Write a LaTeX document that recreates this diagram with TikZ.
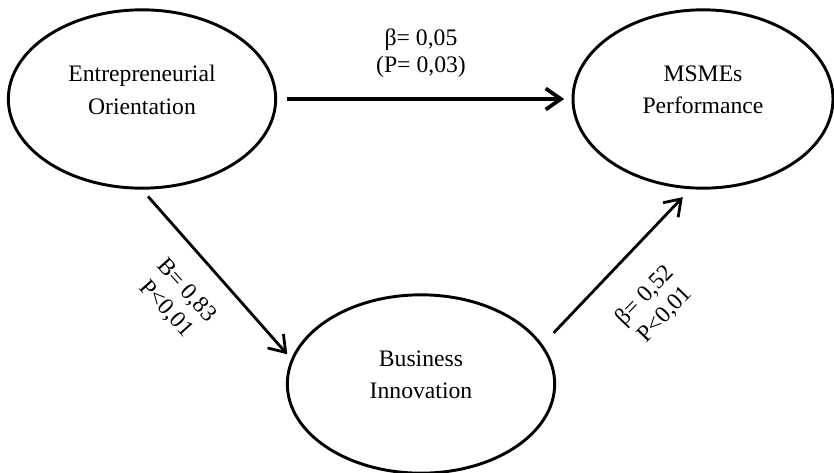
\documentclass[tikz,border=0pt]{standalone}
\usepackage{fontspec}
\setmainfont{Liberation Serif}
\usetikzlibrary{shapes.geometric,arrows.meta}

\begin{document}
\begin{tikzpicture}[x=0.03cm, y=-0.03cm,
  every node/.style={font=\fontsize{20.2}{27.5}\selectfont},
  construct/.style={draw, ellipse, line width=2.5pt, minimum width=8.02cm, minimum height=5.35cm, inner sep=0pt},
  cname/.style={align=center, yshift=0.27cm},
  link/.style={line width=2.4pt, -{Straight Barb[length=13pt,width=18pt]}},
  coef/.style={align=center, font=\fontsize{20.2}{23.5}\selectfont}]
  \useasboundingbox (0,0) rectangle (834,472);
  % latent constructs
  \node[construct, label={[cname]center:Entrepreneurial\\Orientation}] (eo) at (142,99) {};
  \node[construct, minimum width=7.8cm, label={[cname]center:MSMEs\\Performance}] (mp) at (703,99) {};
  \node[construct, label={[cname]center:Business\\Innovation}] (bi) at (421,384) {};
  % paths
  \draw[link, line width=3.2pt, shorten <=0.3cm, shorten >=0.22cm] (eo) -- (mp);
  \draw[link, shorten <=0.27cm, shorten >=0.18cm] (eo.south) -- (bi.169);
  \draw[link, shorten <=0.48cm, shorten >=0.33cm] (bi.18) -- (mp.262);
  % path coefficients
  \node[coef] (c-eomp) at (421,53) {β= 0,05\\(P= 0,03)};
  \node[coef, rotate=-48] (c-eobi) at (176,300) {B= 0,83\\P<0,01};
  \node[coef, rotate=46] (c-bimp) at (655,305) {β= 0,52\\P<0,01};
\end{tikzpicture}
\end{document}
